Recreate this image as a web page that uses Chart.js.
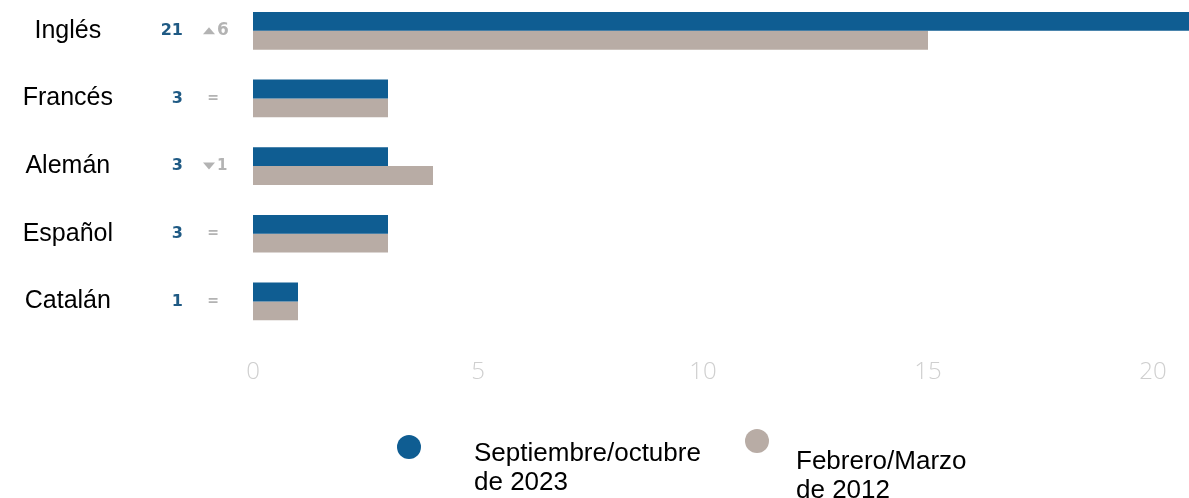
<!DOCTYPE html>
<html>
<head>
<meta charset="utf-8">
<script src="https://cdn.jsdelivr.net/npm/chart.js@4/dist/chart.umd.min.js"></script>
<style>
  html, body { margin: 0; padding: 0; background: #ffffff; overflow: hidden; }
  #wrap { position: relative; width: 1189px; height: 498px; overflow: hidden; }
  #c { position: absolute; left: 0; top: -3px; }
</style>
</head>
<body>
<div id="wrap"><canvas id="c" width="1189" height="501"></canvas></div>
<script>
const categories = ['Inglés', 'Francés', 'Alemán', 'Español', 'Catalán'];
const values2023 = [21, 3, 3, 3, 1];
const values2012 = [15, 3, 4, 3, 1];
const seriesLabels = [['Septiembre/octubre', 'de 2023'], ['Febrero/Marzo', 'de 2012']];
const xTicks = [0, 5, 10, 15, 20];

const BLUE = '#0f5d92';
const TAUPE = '#b8aca5';
const OFF = 3; // canvas is shifted up by 3px

const annotations = {
  id: 'annotations',
  afterDatasetsDraw(chart) {
    const ctx = chart.ctx;
    const y = chart.scales.y;
    ctx.save();
    categories.forEach((c, i) => {
      const py = y.getPixelForValue(i);
      ctx.font = 'bold 16px "DejaVu Sans"';
      ctx.fillStyle = '#1f5a84';
      ctx.textAlign = 'right';
      ctx.textBaseline = 'middle';
      ctx.fillText(String(values2023[i]), 183, py);
      const d = values2023[i] - values2012[i];
      ctx.fillStyle = '#b3b3b3';
      if (d === 0) {
        ctx.font = 'bold 14px "DejaVu Sans"';
        ctx.textAlign = 'center';
        ctx.fillText('=', 213, py);
      } else {
        ctx.beginPath();
        if (d > 0) {
          ctx.moveTo(203, py + 3.5); ctx.lineTo(215, py + 3.5); ctx.lineTo(209, py - 3.5);
        } else {
          ctx.moveTo(203, py - 3.5); ctx.lineTo(215, py - 3.5); ctx.lineTo(209, py + 3.5);
        }
        ctx.closePath();
        ctx.fill();
        ctx.font = (d > 0 ? 'bold 17px' : 'bold 15px') + ' "DejaVu Sans"';
        ctx.textAlign = 'left';
        ctx.fillText(String(Math.abs(d)), 217, py);
      }
    });
    ctx.restore();
  }
};

const customLegend = {
  id: 'customLegend',
  afterDraw(chart) {
    const ctx = chart.ctx;
    const items = [
      { color: BLUE, cx: 409, cy: 447 + OFF, tx: 474, ty: 461 + OFF, lines: seriesLabels[0] },
      { color: TAUPE, cx: 757, cy: 441 + OFF, tx: 796, ty: 469 + OFF, lines: seriesLabels[1] }
    ];
    ctx.save();
    items.forEach(it => {
      ctx.beginPath();
      ctx.fillStyle = it.color;
      ctx.arc(it.cx, it.cy, 12, 0, Math.PI * 2);
      ctx.fill();
      ctx.fillStyle = '#000';
      ctx.font = '26px "Liberation Sans"';
      ctx.textAlign = 'left';
      ctx.textBaseline = 'alphabetic';
      it.lines.forEach((l, k) => ctx.fillText(l, it.tx, it.ty + k * 29));
    });
    ctx.restore();
  }
};

new Chart(document.getElementById('c'), {
  type: 'bar',
  data: {
    labels: categories,
    datasets: [
      { label: seriesLabels[0].join(' '), data: values2023, backgroundColor: BLUE, borderWidth: 0 },
      { label: seriesLabels[1].join(' '), data: values2012, backgroundColor: TAUPE, borderWidth: 0 }
    ]
  },
  options: {
    indexAxis: 'y',
    responsive: false,
    animation: false,
    devicePixelRatio: 1,
    layout: { padding: { top: 0, right: 0, bottom: 88, left: 0 } },
    datasets: { bar: { categoryPercentage: 0.557, barPercentage: 1 } },
    plugins: { legend: { display: false }, tooltip: { enabled: false } },
    scales: {
      x: {
        min: 0,
        max: 20.8,
        grid: { display: false, drawTicks: false },
        border: { display: false },
        afterBuildTicks(scale) { scale.ticks = xTicks.map(v => ({ value: v })); },
        afterFit(scale) { scale.paddingLeft = 0; scale.paddingRight = 0; },
        ticks: {
          padding: 23,
          color: '#cfcfcf',
          font: { family: '"Open Sans"', size: 24, weight: '300' },
          callback: v => String(v)
        }
      },
      y: {
        grid: { display: false, drawTicks: false },
        border: { display: false },
        afterFit(scale) { scale.width = 253; scale.paddingTop = 0; scale.paddingBottom = 0; },
        ticks: {
          autoSkip: false,
          crossAlign: 'center',
          padding: 140,
          color: '#000',
          font: { family: '"Liberation Sans"', size: 25 }
        }
      }
    }
  },
  plugins: [annotations, customLegend]
});
</script>
</body>
</html>
